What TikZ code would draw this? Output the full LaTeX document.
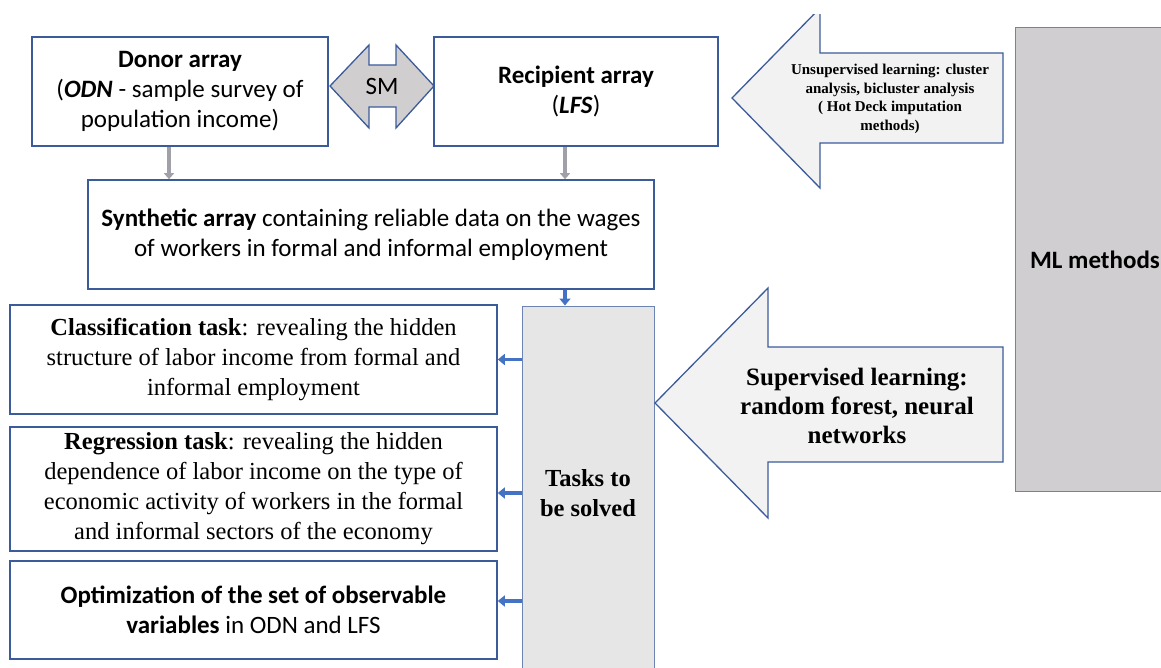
\documentclass[tikz,border=0pt]{standalone}
\usepackage{fontspec}
\setmainfont{Liberation Serif}
\setsansfont{Carlito}
\usetikzlibrary{arrows.meta}
\definecolor{boxline}{RGB}{59,91,155}
\definecolor{arrowblue}{RGB}{68,114,196}
\definecolor{taskfill}{RGB}{231,230,230}
\definecolor{mlfill}{RGB}{208,206,208}
\definecolor{bigarrow}{RGB}{242,242,242}
\definecolor{smfill}{RGB}{208,206,206}
\definecolor{feedgray}{RGB}{160,160,168}

\tikzset{
	sansbox/.style={draw=boxline, line width=1.6pt, align=center, inner sep=0pt, font=\sffamily\fontsize{25}{30}\selectfont},
	serifbox/.style={draw=boxline, line width=1.6pt, align=center, inner sep=0pt, font=\rmfamily\fontsize{24.5}{30}\selectfont},
	greybox/.style={draw=boxline!75, line width=1pt, align=center, inner sep=0pt},
	feed/.style={draw=feedgray, line width=4.5pt, -{Triangle[length=6pt,width=10pt]}},
	taskarrow/.style={draw=arrowblue, line width=3.5pt, -{Triangle[length=7pt,width=11pt]}},
	blockarrow/.style={draw=boxline, line width=1.3pt, fill=bigarrow, line join=miter},
}

\begin{document}
\begin{tikzpicture}[x=1pt,y=-1pt]
		\useasboundingbox (0,0) rectangle (1161,668);
		
		\node[greybox, fill=mlfill, minimum width=160pt, minimum height=463pt, font=\sffamily\bfseries\fontsize{25}{30}\selectfont] (ml) at (1095,259.5) {ML methods};
		\node[greybox, fill=taskfill, minimum width=132pt, minimum height=374pt, font=\rmfamily\bfseries\fontsize{24.5}{30}\selectfont] (tasks) at (588,493) {Tasks to\\be solved};
		
		\node[sansbox, minimum width=296pt, minimum height=109pt] (donor) at (180,91.5) {\textbf{Donor array}\\(\textbf{\textit{ODN}} - sample survey of\\population income)};
		\node[sansbox, minimum width=284pt, minimum height=109pt] (recipient) at (576,91.5) {\textbf{Recipient array}\\(\textbf{\textit{LFS}})};
		\node[sansbox, minimum width=566pt, minimum height=109pt] (synth) at (371,234.5) {\textbf{Synthetic array} containing reliable data on the wages\\of workers in formal and informal employment};
		
		\node[serifbox, minimum width=487pt, minimum height=109pt] (classif) at (253.5,359.5) {\textbf{Classification task}: revealing the hidden\\structure of labor income from formal and\\informal employment};
		\node[serifbox, minimum width=487pt, minimum height=124pt] (regress) at (253.5,489) {\textbf{Regression task}: revealing the hidden\\dependence of labor income on the type of\\economic activity of workers in the formal\\and informal sectors of the economy};
		\node[sansbox, minimum width=487pt, minimum height=98pt] (optim) at (253.5,610) {\textbf{Optimization of the set of observable}\\\textbf{variables} in ODN and LFS};
		
		\draw[blockarrow, fill=smfill] (330,86) -- (369,45) -- (369,65) -- (396,65) -- (396,45) -- (434,86) -- (396,128) -- (396,107) -- (369,107) -- (369,128) -- cycle;
		\node[font=\sffamily\fontsize{25}{28}\selectfont] (sm) at (382,86) {SM};
		
		\begin{scope}
			\clip (0,15) rectangle (1161,668);
			\draw[blockarrow] (732,98) -- (820,8) -- (820,53) -- (1003,53) -- (1003,143) -- (820,143) -- (820,188) -- cycle;
		\end{scope}
		\node[font=\rmfamily\bfseries\fontsize{15}{18.5}\selectfont, align=center] (unsup) at (890,99) {Unsupervised learning: cluster\\analysis, bicluster analysis\\( Hot Deck imputation\\methods)};
		
		\draw[blockarrow] (655,403) -- (768,288) -- (768,347) -- (1003,347) -- (1003,462) -- (768,462) -- (768,518) -- cycle;
		\node[font=\rmfamily\bfseries\fontsize{25}{29}\selectfont, align=center] (sup) at (857,406) {Supervised learning:\\random forest, neural\\networks};
		
		\coordinate (dx) at (169,0);
		\coordinate (rx) at (565,0);
		\coordinate (ry) at (0,493);
		\coordinate (oy) at (0,601);
		\draw[feed] (donor.south -| dx) -- (synth.north -| dx);
		\draw[feed] (recipient.south -| rx) -- (synth.north -| rx);
		\draw[taskarrow] (synth.south -| rx) -- (tasks.north -| rx);
		\draw[taskarrow] (tasks.west |- classif.east) -- (classif.east);
		\draw[taskarrow] (tasks.west |- ry) -- (regress.east |- ry);
		\draw[taskarrow] (tasks.west |- oy) -- (optim.east |- oy);
	\end{tikzpicture}
\end{document}
